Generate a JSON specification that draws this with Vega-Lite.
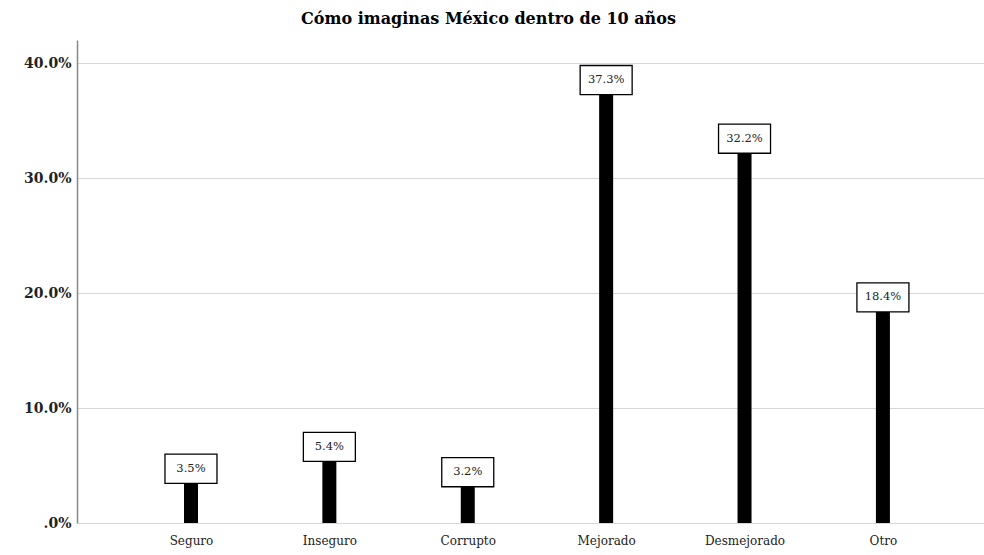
{
  "$schema": "https://vega.github.io/schema/vega-lite/v6.json",
  "autosize": "none",
  "width": 907,
  "height": 483,
  "padding": {"left": 77, "top": 40, "right": 0, "bottom": 32},
  "background": "white",
  "title": {
    "text": "Cómo imaginas México dentro de 10 años",
    "font": "DejaVu Serif",
    "fontSize": 16,
    "fontWeight": "bold",
    "color": "black",
    "anchor": "middle",
    "frame": "group",
    "dx": -42,
    "offset": 13
  },
  "config": {
    "view": {"stroke": null}
  },
  "data": {
    "values": [
      {"cat": "Seguro", "pct": 3.5, "label": "3.5%"},
      {"cat": "Inseguro", "pct": 5.4, "label": "5.4%"},
      {"cat": "Corrupto", "pct": 3.2, "label": "3.2%"},
      {"cat": "Mejorado", "pct": 37.3, "label": "37.3%"},
      {"cat": "Desmejorado", "pct": 32.2, "label": "32.2%"},
      {"cat": "Otro", "pct": 18.4, "label": "18.4%"}
    ]
  },
  "encoding": {
    "x": {
      "field": "cat",
      "type": "nominal",
      "sort": null,
      "scale": {"type": "point", "padding": 0.777, "align": 0.53},
      "axis": {
        "title": null,
        "domain": false,
        "ticks": false,
        "labelAngle": 0,
        "labelFont": "DejaVu Serif",
        "labelFontSize": 12,
        "labelColor": "#222",
        "labelPadding": 12
      }
    },
    "y": {
      "field": "pct",
      "type": "quantitative",
      "scale": {"domain": [0, 42], "nice": false},
      "axis": {
        "title": null,
        "values": [0, 10, 20, 30, 40],
        "labelExpr": "datum.value == 0 ? '.0%' : format(datum.value, '.1f') + '%'",
        "labelFont": "DejaVu Serif",
        "labelFontSize": 14,
        "labelFontWeight": "bold",
        "labelColor": "#222",
        "labelPadding": 6,
        "ticks": false,
        "domainColor": "#888",
        "domainWidth": 1.5,
        "gridColor": "#d6d6d6",
        "gridWidth": 1.2
      }
    }
  },
  "layer": [
    {
      "mark": {"type": "bar", "color": "black", "size": 14}
    },
    {
      "mark": {
        "type": "point",
        "shape": "M-1,-0.56H1V0.56H-1Z",
        "size": 2704,
        "filled": false,
        "fill": "white",
        "fillOpacity": 1,
        "stroke": "black",
        "strokeWidth": 1.3,
        "opacity": 1,
        "yOffset": -14
      }
    },
    {
      "mark": {
        "type": "text",
        "font": "DejaVu Serif",
        "fontSize": 11.5,
        "color": "#222",
        "baseline": "middle",
        "align": "center",
        "dy": -14
      },
      "encoding": {"text": {"field": "label"}}
    }
  ]
}
